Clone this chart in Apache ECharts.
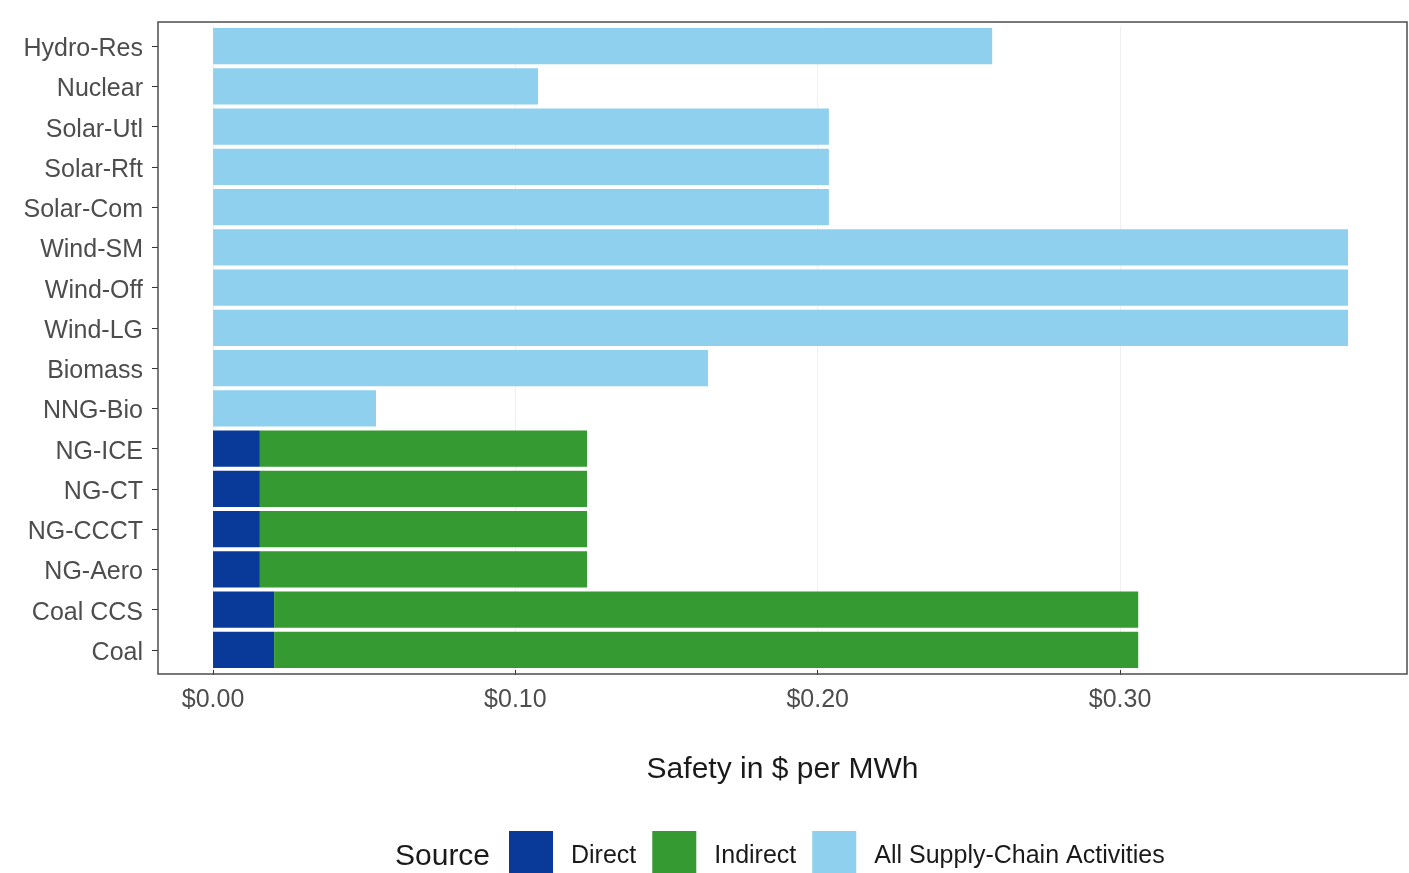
<!DOCTYPE html>
<html>
<head>
<meta charset="utf-8">
<script src="https://cdn.jsdelivr.net/npm/echarts@6/dist/echarts.min.js"></script>
<style>
html,body{margin:0;padding:0;background:#fff;}
#chart{width:1409px;height:873px;}
</style>
</head>
<body>
<div id="chart"></div>
<script>
// Categories, top to bottom
const categories = ['Hydro-Res','Nuclear','Solar-Utl','Solar-Rft','Solar-Com','Wind-SM','Wind-Off','Wind-LG','Biomass','NNG-Bio','NG-ICE','NG-CT','NG-CCCT','NG-Aero','Coal CCS','Coal'];
// $ per MWh
const directValues   = [null,null,null,null,null,null,null,null,null,null,0.0155,0.0155,0.0155,0.0155,0.0202,0.0202];
const indirectValues = [null,null,null,null,null,null,null,null,null,null,0.1082,0.1082,0.1082,0.1082,0.2858,0.2858];
const supplyValues   = [0.2577,0.1075,0.2037,0.2037,0.2037,0.3754,0.3754,0.3754,0.1637,0.0539,null,null,null,null,null,null];
const xTickValues = [0, 0.1, 0.2, 0.3];
const seriesNames = ['Direct','Indirect','All Supply-Chain Activities'];
const legendTitle = 'Source';
const xAxisTitle = 'Safety in $ per MWh';

const FONT = '"Liberation Sans", Arial, sans-serif';
const chart = echarts.init(document.getElementById('chart'));
const colors = ['#0a3a99', '#359a31', '#8fd0ef'];

function mkSeries(name, data, color) {
  return {
    name: name, type: 'bar', stack: 'total', data: data,
    barCategoryGap: '10%',
    itemStyle: {color: color},
    emphasis: {disabled: true},
    silent: true
  };
}

chart.setOption({
  animation: false,
  backgroundColor: '#ffffff',
  textStyle: {fontFamily: FONT},
  grid: {left: 158, width: 1249, top: 26, height: 644, containLabel: false},
  xAxis: {
    type: 'value',
    min: -0.0182, max: 0.3949,
    axisLine: {show: false, onZero: false},
    axisTick: {show: true, length: 5, lineStyle: {color: '#333'}, customValues: xTickValues},
    axisLabel: {
      customValues: xTickValues,
      fontSize: 25, color: '#4d4d4d', margin: 18, fontFamily: FONT,
      formatter: v => '$' + v.toFixed(2)
    },
    splitLine: {show: true, lineStyle: {color: '#f0f0f0', width: 1}},
    name: xAxisTitle,
    nameLocation: 'middle',
    nameGap: 85,
    nameTextStyle: {fontSize: 30, color: '#1a1a1a', fontFamily: FONT}
  },
  yAxis: {
    type: 'category',
    inverse: true,
    data: categories,
    axisLine: {show: false, onZero: false},
    axisTick: {show: true, length: 6, alignWithLabel: true, lineStyle: {color: '#333'}},
    axisLabel: {
      margin: 15,
      formatter: v => '{a|' + v + '}',
      rich: {a: {fontSize: 25, color: '#4d4d4d', fontFamily: FONT, padding: [6, 0, 0, 0]}}
    },
    splitLine: {show: false}
  },
  legend: {
    left: 509, top: 831, padding: 0,
    itemWidth: 44, itemHeight: 50, itemGap: 16,
    icon: 'rect',
    data: seriesNames,
    selectedMode: false,
    textStyle: {fontSize: 25, color: '#1a1a1a', fontFamily: FONT, padding: [0,0,0,13]}
  },
  graphic: [
    {type: 'rect', shape: {x: 158, y: 22, width: 1249, height: 652}, style: {fill: 'none', stroke: '#4d4d4d', lineWidth: 1.5}, z: 10, silent: true},
    {type: 'text', left: 395, top: 842, style: {text: legendTitle, fontSize: 30, fill: '#1a1a1a', fontFamily: FONT}, silent: true}
  ],
  series: [
    mkSeries(seriesNames[0], directValues, colors[0]),
    mkSeries(seriesNames[1], indirectValues, colors[1]),
    mkSeries(seriesNames[2], supplyValues, colors[2])
  ]
});
</script>
</body>
</html>
